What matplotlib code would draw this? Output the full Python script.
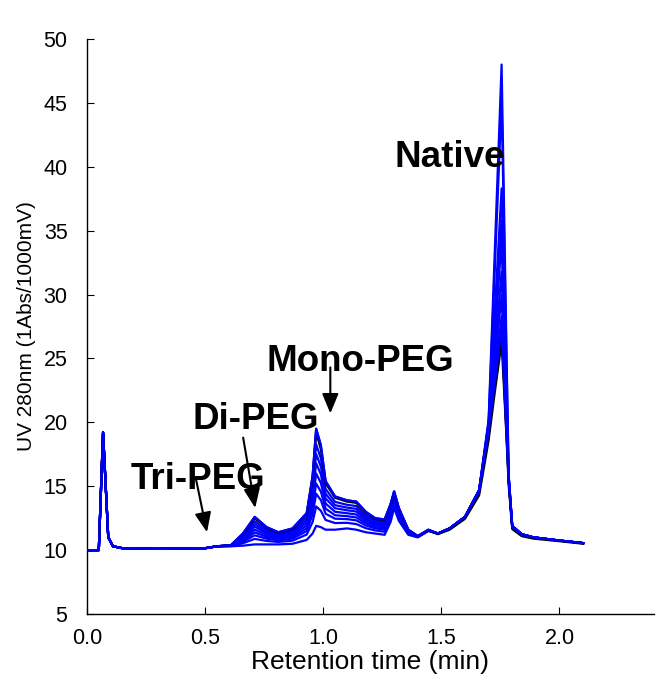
import matplotlib
matplotlib.use('Agg')
import matplotlib.pyplot as plt

plt.rcParams['font.family'] = ['Liberation Sans', 'DejaVu Sans']

# injection spike + flat baseline, shared by every run
t_head = [0.00, 0.05, 0.068, 0.09, 0.11, 0.15, 0.30, 0.50, 0.55]
uv_head = [10.0, 10.0, 19.2, 11.0, 10.3, 10.15, 10.1, 10.15, 10.3]

# rest of the chromatogram (PEG species, native peak)
t_body = [0.61, 0.66, 0.71, 0.76, 0.81, 0.87, 0.93, 0.955, 0.97, 0.99,
          1.01, 1.05, 1.10, 1.14, 1.18, 1.22, 1.26, 1.285, 1.30, 1.32,
          1.36, 1.40, 1.445, 1.485, 1.535, 1.60, 1.66, 1.70, 1.725, 1.755,
          1.775, 1.785, 1.80, 1.84, 1.89, 2.00, 2.10]

blue_runs = [
    [10.40, 11.30, 12.60, 11.80, 11.40, 11.70, 12.90, 15.80, 19.50, 18.20,
     15.40, 14.20, 13.90, 13.80, 13.00, 12.50, 12.40, 13.60, 14.60, 13.30,
     11.60, 11.10, 11.60, 11.30, 11.70, 12.60, 14.60, 19.30, 22.90, 27.30,
     19.40, 15.40, 11.80, 11.20, 11.00, 10.75, 10.55],
    [10.38, 11.15, 12.26, 11.58, 11.25, 11.51, 12.56, 15.08, 18.28, 17.18,
     14.79, 13.78, 13.55, 13.45, 12.74, 12.31, 12.21, 13.38, 14.39, 13.14,
     11.54, 11.08, 11.58, 11.30, 11.70, 12.60, 14.60, 19.40, 23.40, 28.30,
     19.80, 15.50, 11.80, 11.20, 11.00, 10.75, 10.55],
    [10.37, 11.05, 12.04, 11.45, 11.15, 11.39, 12.35, 14.63, 17.52, 16.54,
     14.41, 13.52, 13.33, 13.23, 12.58, 12.19, 12.09, 13.24, 14.26, 13.04,
     11.50, 11.07, 11.57, 11.30, 11.70, 12.60, 14.70, 19.50, 24.30, 30.00,
     20.30, 15.50, 11.85, 11.20, 11.00, 10.75, 10.55],
    [10.36, 10.96, 11.84, 11.32, 11.06, 11.27, 12.15, 14.20, 16.80, 15.93,
     14.05, 13.28, 13.12, 13.02, 12.43, 12.07, 11.97, 13.10, 14.14, 12.95,
     11.46, 11.06, 11.56, 11.30, 11.70, 12.60, 14.70, 19.60, 25.10, 31.80,
     20.90, 15.60, 11.85, 11.25, 11.00, 10.75, 10.55],
    [10.35, 10.86, 11.61, 11.18, 10.96, 11.15, 11.93, 13.73, 16.00, 15.26,
     13.65, 13.00, 12.89, 12.79, 12.26, 11.95, 11.85, 12.96, 14.00, 12.84,
     11.42, 11.05, 11.55, 11.30, 11.70, 12.60, 14.70, 19.70, 26.30, 34.30,
     21.80, 15.60, 11.85, 11.25, 11.00, 10.75, 10.55],
    [10.34, 10.76, 11.39, 11.04, 10.86, 11.02, 11.71, 13.26, 15.21, 14.58,
     13.25, 12.73, 12.66, 12.56, 12.10, 11.82, 11.72, 12.81, 13.87, 12.74,
     11.37, 11.04, 11.54, 11.30, 11.70, 12.60, 14.70, 19.80, 27.10, 35.80,
     22.30, 15.70, 11.90, 11.25, 11.00, 10.75, 10.55],
    [10.33, 10.66, 11.16, 10.90, 10.76, 10.90, 11.49, 12.79, 14.41, 13.91,
     12.85, 12.46, 12.43, 12.33, 11.93, 11.70, 11.60, 12.66, 13.73, 12.63,
     11.33, 11.03, 11.53, 11.30, 11.70, 12.60, 14.70, 19.90, 28.30, 38.30,
     23.10, 15.70, 11.90, 11.25, 11.00, 10.75, 10.55],
    [10.32, 10.54, 10.88, 10.72, 10.64, 10.74, 11.22, 12.20, 13.42, 13.08,
     12.36, 12.12, 12.14, 12.04, 11.72, 11.54, 11.44, 12.48, 13.56, 12.50,
     11.28, 11.02, 11.52, 11.30, 11.70, 12.60, 14.70, 20.00, 31.45, 45.20,
     25.40, 15.80, 11.90, 11.25, 11.00, 10.75, 10.55],
    [10.30, 10.35, 10.45, 10.45, 10.45, 10.50, 10.80, 11.30, 11.90, 11.80,
     11.60, 11.60, 11.70, 11.60, 11.40, 11.30, 11.20, 12.20, 13.30, 12.30,
     11.20, 11.00, 11.50, 11.30, 11.70, 12.60, 14.70, 20.20, 32.80, 48.00,
     26.30, 15.80, 11.90, 11.25, 11.00, 10.75, 10.55],
]

black_run = [10.40, 11.26, 12.50, 11.75, 11.36, 11.65, 12.82, 15.60, 19.20, 17.90,
             15.25, 14.10, 13.80, 13.70, 12.95, 12.45, 12.35, 13.55, 14.55, 13.25,
             11.58, 11.10, 11.55, 11.25, 11.60, 12.45, 14.30, 18.60, 22.20, 26.30,
             19.10, 15.10, 11.65, 11.10, 10.90, 10.70, 10.50]

# peak labels: text, text position, arrow tail, arrow tip (None = no arrow)
labels = ['Native', 'Mono-PEG', 'Di-PEG', 'Tri-PEG']
label_pos = [(1.30, 40.0), (0.758, 24.0), (0.445, 19.5), (0.186, 14.8)]
arrow_tail = [None, (1.03, 24.3), (0.661, 18.8), (0.462, 15.5)]
arrow_tip = [None, (1.03, 20.7), (0.712, 13.3), (0.508, 11.4)]

x_ticks = [0.0, 0.5, 1.0, 1.5, 2.0]
y_ticks = [5, 10, 15, 20, 25, 30, 35, 40, 45, 50]


fig = plt.figure(figsize=(6.58, 6.95), dpi=100)
ax = fig.add_axes([0.1322, 0.1165, 0.8617, 0.8274])

t_all = t_head + t_body
for run in blue_runs:
    ax.plot(t_all, uv_head + run, color='#0000ff', lw=1.6, zorder=2)
ax.plot(t_all, uv_head + black_run, color='black', lw=1.6, zorder=3)
# keep the strongest PEG run on top, as in the original
ax.plot(t_all, uv_head + blue_runs[0], color='#0000ff', lw=1.6, zorder=3)

for txt, pos, tail, tip in zip(labels, label_pos, arrow_tail, arrow_tip):
    ax.text(pos[0], pos[1], txt, fontsize=26.5, fontweight='bold',
            ha='left', va='baseline', zorder=5)
    if tail is not None:
        ax.annotate('', xy=tip, xytext=tail,
                    arrowprops=dict(arrowstyle='-|>,head_length=0.6,head_width=0.25',
                                    mutation_scale=20, color='black', lw=1.5,
                                    shrinkA=0, shrinkB=0), zorder=6)

ax.set_xlim(0, 2.4)
ax.set_ylim(5, 50)
ax.set_xticks(x_ticks)
ax.set_xticklabels(['%.1f' % v for v in x_ticks])
ax.set_yticks(y_ticks)

for side in ['top', 'right']:
    ax.spines[side].set_visible(False)
for side in ['left', 'bottom']:
    ax.spines[side].set_linewidth(1.0)

ax.tick_params(axis='both', direction='in', length=5, width=0.8, labelsize=15.5)
ax.tick_params(axis='x', pad=10)
ax.tick_params(axis='y', pad=14)

ax.set_xlabel('Retention time (min)', fontsize=19, labelpad=1)
ax.set_ylabel('UV 280nm (1Abs/1000mV)', fontsize=15, labelpad=5)

fig.savefig('out.png', dpi=100)
